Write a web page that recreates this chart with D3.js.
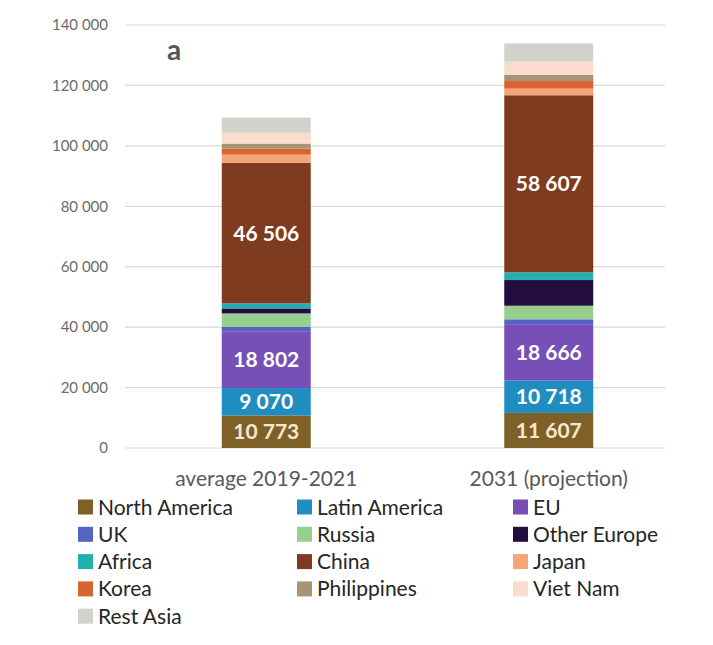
<!DOCTYPE html>
<html>
<head>
<meta charset="utf-8">
<script src="https://cdn.jsdelivr.net/npm/d3@7"></script>
<style>
  body { margin: 0; background: #fff; }
  svg { font-family: Lato, "Open Sans", sans-serif; }
</style>
</head>
<body>
<div id="chart"></div>
<script>
var categories = ["average 2019-2021", "2031 (projection)"];

var regions = ["North America", "Latin America", "EU", "UK", "Russia", "Other Europe",
  "Africa", "China", "Japan", "Korea", "Philippines", "Viet Nam", "Rest Asia"];

var northAmerica = [10773, 11607];
var latinAmerica = [9070, 10718];
var eu = [18802, 18666];
var uk = [1400, 1600];
var russia = [4500, 4500];
var otherEurope = [1650, 8500];
var africa = [1650, 2550];
var china = [46506, 58607];
var japan = [2750, 2200];
var korea = [2000, 2500];
var philippines = [1650, 2000];
var vietNam = [3600, 4400];
var restAsia = [5000, 6050];

var colors = ["#7f6128", "#1f8dc0", "#7650b6", "#5364c2", "#97cf91", "#220c40",
  "#22b0ae", "#7f3b1f", "#f6a57a", "#d8642f", "#a79477", "#f9dccd", "#d2d2cc"];

var labelled = ["North America", "Latin America", "EU", "China"];
var yTicks = [0, 20000, 40000, 60000, 80000, 100000, 120000, 140000];

var seriesValues = [northAmerica, latinAmerica, eu, uk, russia, otherEurope,
  africa, china, japan, korea, philippines, vietNam, restAsia];

var rows = categories.map(function(c, i) {
  var r = { category: c };
  regions.forEach(function(name, k) { r[name] = seriesValues[k][i]; });
  return r;
});

var width = 713, height = 645;
var svg = d3.select("#chart").append("svg")
  .attr("width", width)
  .attr("height", height);

var x = d3.scaleBand().domain(categories).range([125, 690])
  .paddingInner(0.685).paddingOuter(0.3425);
var y = d3.scaleLinear().domain([0, 140000]).range([448, 25]);
var color = d3.scaleOrdinal().domain(regions).range(colors);
var fmt = d3.formatLocale({ decimal: ".", thousands: " ", grouping: [3], currency: ["", ""] }).format(",d");

// gridlines
svg.append("g").selectAll("line")
  .data(yTicks)
  .enter().append("line")
  .attr("x1", 125).attr("x2", 665)
  .attr("y1", function(d) { return y(d); })
  .attr("y2", function(d) { return y(d); })
  .attr("stroke", "#d9d9d9")
  .attr("stroke-width", 1.2);

// y axis labels
var yAxis = d3.axisLeft(y).tickValues(yTicks).tickFormat(fmt).tickSize(0).tickPadding(0);
var ya = svg.append("g").attr("transform", "translate(108,0)").call(yAxis);
ya.select(".domain").remove();
ya.selectAll("text")
  .attr("font-family", "Lato, sans-serif")
  .attr("font-size", 15)
  .attr("fill", "#6b6b6b");

var stack = d3.stack().keys(regions);
var layers = stack(rows);

var g = svg.append("g").selectAll("g")
  .data(layers)
  .enter().append("g")
  .attr("fill", function(d) { return color(d.key); });

g.selectAll("rect")
  .data(function(d) { return d; })
  .enter().append("rect")
  .attr("x", function(d) { return x(d.data.category); })
  .attr("width", x.bandwidth())
  .attr("y", function(d) { return y(d[1]); })
  .attr("height", function(d) { return y(d[0]) - y(d[1]); });

// value labels
layers.filter(function(l) { return labelled.indexOf(l.key) >= 0; }).forEach(function(l) {
  svg.append("g").selectAll("text")
    .data(l)
    .enter().append("text")
    .attr("x", function(d) { return x(d.data.category) + x.bandwidth() / 2; })
    .attr("y", function(d) { return (y(d[0]) + y(d[1])) / 2; })
    .attr("dy", "0.36em")
    .attr("text-anchor", "middle")
    .attr("font-size", 21)
    .attr("font-weight", "bold")
    .attr("fill", l.key === "North America" ? "#f6e8cc" : "#ffffff")
    .text(function(d) { return fmt(d[1] - d[0]); });
});

// x axis labels
var xAxis = d3.axisBottom(x).tickSize(0).tickPadding(0);
var xa = svg.append("g").attr("transform", "translate(0,486)").call(xAxis);
xa.select(".domain").remove();
xa.selectAll("text")
  .attr("dy", 0)
  .attr("font-family", "Lato, sans-serif")
  .attr("font-size", 21)
  .attr("fill", "#595959");

// panel letter
svg.append("text")
  .attr("x", 167).attr("y", 60)
  .attr("font-size", 28)
  .attr("font-weight", "bold")
  .attr("fill", "#555555")
  .text("a");

// legend
var colX = [78, 297, 513];
var legend = svg.append("g").selectAll("g")
  .data(regions)
  .enter().append("g")
  .attr("transform", function(d, i) {
    return "translate(" + colX[i % 3] + "," + (507 + Math.floor(i / 3) * 27.3) + ")";
  });
legend.append("rect")
  .attr("x", 0).attr("y", -7.5)
  .attr("width", 15).attr("height", 15)
  .attr("fill", function(d) { return color(d); });
legend.append("text")
  .attr("x", 20).attr("dy", "0.36em")
  .attr("font-size", 21)
  .attr("fill", "#262626")
  .text(function(d) { return d; });
</script>
</body>
</html>
